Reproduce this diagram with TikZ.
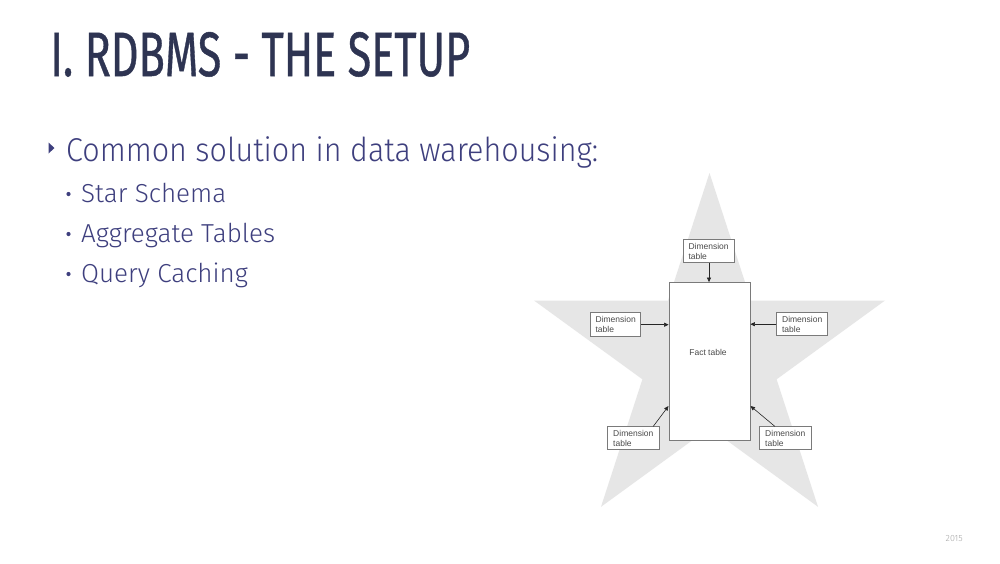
\documentclass[tikz,border=0pt]{standalone}
\usepackage{fontspec}
\usetikzlibrary{arrows.meta}
\setmainfont{Fira Sans}
\newfontfamily\titlefont{Fira Sans}[FakeBold=0.8]
\newfontfamily\bodyfont{Fira Sans}[UprightFont=* Light]
\newfontfamily\boxfont{Liberation Sans}
\definecolor{titlecol}{HTML}{2E3452}
\definecolor{bodycol}{HTML}{3E3F7E}
\definecolor{starcol}{HTML}{E6E6E6}
\definecolor{boxline}{HTML}{7A7A7A}
\definecolor{boxtext}{HTML}{4A4A4A}
\tikzset{
  dimbox/.style={draw=boxline, fill=white, line width=0.8pt, minimum width=51pt, minimum height=23pt,
    inner sep=0pt, font=\boxfont\fontsize{8.5}{9.8}\selectfont, text=boxtext, align=left, anchor=center},
  factbox/.style={draw=boxline, fill=white, line width=0.8pt, minimum width=81pt, minimum height=158pt,
    inner sep=0pt, anchor=center},
  link/.style={draw=black!85, line width=0.6pt, -{Triangle[length=4.5pt,width=4pt]}},
  bodytext/.style={anchor=base west, inner sep=0pt, text=bodycol},
}
\begin{document}
\begin{tikzpicture}[x=1pt,y=-1pt]
\useasboundingbox[fill=white] (0,0) rectangle (1000,563);
% title
\node[anchor=south west, inner sep=0pt, text=titlecol] (title) at (50,77)
  {\resizebox{420pt}{44pt}{\titlefont I. RDBMS - THE SETUP}};
% bullets
\fill[bodycol] (48.5,142.5) -- (54.5,148) -- (48.5,153.5) -- cycle;
\node[bodytext, font=\bodyfont\fontsize{33}{36}\selectfont] (l1) at (66,161)
  {\resizebox{532pt}{\height}{Common solution in data warehousing:}};
\fill[bodycol] (68.5,194) circle (2.1);
\fill[bodycol] (68.5,234) circle (2.1);
\fill[bodycol] (68.5,274) circle (2.1);
\node[bodytext, font=\bodyfont\fontsize{26}{28}\selectfont] (l2) at (81,202) {Star Schema};
\node[bodytext, font=\bodyfont\fontsize{26}{28}\selectfont] (l3) at (81,242) {Aggregate Tables};
\node[bodytext, font=\bodyfont\fontsize{26}{28}\selectfont] (l4) at (81,282) {Query Caching};
% star
\fill[starcol] (709.5,173)
  -- (751,300.5) -- (885,300.5) -- (776.6,379.3) -- (818,506.8)
  -- (709.5,427.8) -- (601,506.8) -- (642.4,379.3) -- (534,300.5)
  -- (668,300.5) -- cycle;
% fact table
\node[factbox] (fact) at (709.5,361.5) {};
\node[font=\boxfont\fontsize{8.5}{9.8}\selectfont, text=boxtext, inner sep=0pt] (factlabel) at (708,352) {Fact table};
% dimension tables
\node[dimbox] (dtop) at (708.6,251.3) {Dimension\\table};
\node[dimbox, minimum width=50pt, minimum height=24pt] (dleft) at (615.7,324.7) {Dimension\\table};
\node[dimbox] (dright) at (802.2,324.2) {Dimension\\table};
\node[dimbox, minimum width=52pt] (dbl) at (633.3,438.3) {Dimension\\table};
\node[dimbox, minimum width=52pt] (dbr) at (785.3,438.3) {Dimension\\table};
% links
\draw[link] (dtop.south -| 709,0) -- (fact.north -| 709,0);
\draw[link] (dleft.east) -- (dleft.east -| fact.west);
\draw[link] (dright.west) -- (dright.west -| fact.east);
\coordinate (blend) at (668.5,406);
\coordinate (brend) at (750.5,406);
\draw[link] (dbl.north east) ++(-6.5,0) coordinate (blstart) -- (blend);
\draw[link] (dbr.north west) ++(16,0) coordinate (brstart) -- (brend);
% footer
\node[anchor=base east, inner sep=0pt, text=black!35, font=\bodyfont\fontsize{9}{10}\selectfont] (year) at (963,541) {2015};
\end{tikzpicture}
\end{document}
